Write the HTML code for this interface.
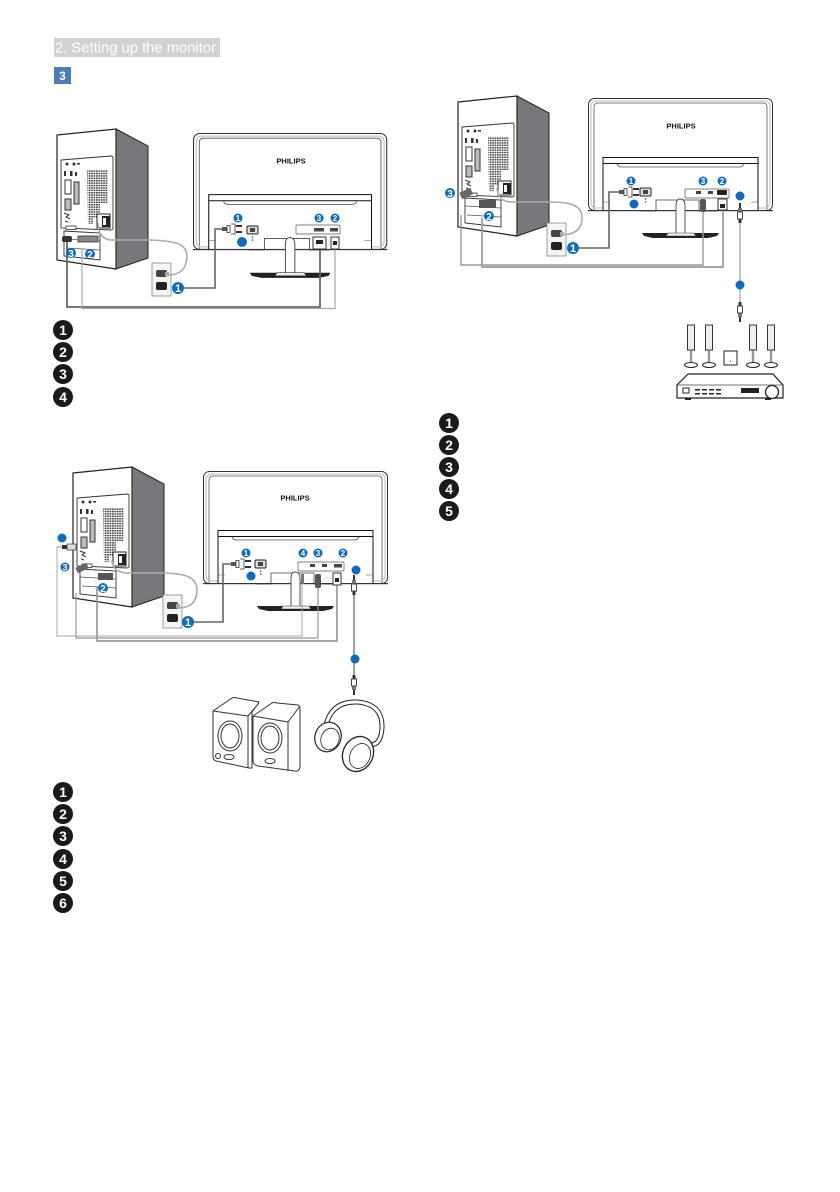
<!DOCTYPE html>
<html><head><meta charset="utf-8"><style>
html,body{margin:0;padding:0;background:#fff;width:840px;height:1192px;overflow:hidden}
svg{display:block;font-family:"Liberation Sans",sans-serif;filter:blur(.35px)}
.b{font-weight:bold;fill:#fff;text-anchor:middle}
</style></head><body>
<svg width="840" height="1192" viewBox="0 0 840 1192" xmlns="http://www.w3.org/2000/svg">
<defs>
<pattern id="mesh" width="2.4" height="2.4" patternUnits="userSpaceOnUse"><rect width="2.4" height="2.4" fill="#fff"/><rect width="1.7" height="1.5" fill="#444"/></pattern>
<g id="pc">
 <polygon points="57,135 116,129 116,269 57,260" fill="#fff" stroke="#222" stroke-width="1.2"/>
 <polygon points="116,129 148,146 148,258 116,269" fill="#77787b" stroke="#222" stroke-width="1"/>
 <path d="M61,160 L111,156 Q113,156 113,158 V229 L111,230 L61,228Z" fill="#fff" stroke="#333" stroke-width=".9"/>
 <path d="M87,170 H108 V203 H100 V218 H93 V224 H88Z" fill="url(#mesh)"/>
 <g fill="#333">
 <circle cx="67" cy="164" r="1.5"/><circle cx="74" cy="164" r="1.5"/><rect x="77" y="163" width="3" height="1.5"/>
 <rect x="64" y="171" width="2" height="5"/><rect x="70" y="171" width="2.5" height="5"/><rect x="75" y="172" width="2" height="4"/>
 </g>
 <rect x="65" y="180" width="6" height="14" fill="#fff" stroke="#333"/>
 <rect x="74" y="182" width="5" height="22" fill="#bbb" stroke="#333"/>
 <rect x="65" y="199" width="6" height="11" fill="#bbb" stroke="#333"/>
 <path d="M64,213 l5,2 l-3,2 l4,2 M65,221 l3,1" stroke="#333" fill="none"/>
 <rect x="66" y="226" width="10" height="3.5" fill="#fff" stroke="#333" stroke-width=".8"/>
 <path d="M97,214 H110 V228 H97Z" fill="#fff" stroke="#222"/><rect x="102" y="216" width="8" height="11" fill="#222"/><rect x="103" y="218" width="3" height="7" fill="#fff"/>
 <path d="M64,231 L100,233 V260 L64,256Z" fill="#fff" stroke="#333" stroke-width=".9"/>
 <path d="M64,239 L100,241 M66,248 L100,250" stroke="#555" fill="none" stroke-width=".7"/>
</g>
<g id="mon">
 <rect x=".5" y=".5" width="184" height="112" rx="6" fill="#fff" stroke="#333"/>
 <path d="M6,112 V9 Q6,5 10,5 H175 Q179,5 179,9 V112" fill="none" stroke="#555" stroke-width=".8"/>
 <rect x="3" y="3" width="179" height="107" rx="5" fill="none" stroke="#bbb" stroke-width="1"/>
 <rect x="15" y="59" width="155" height="54" fill="#fff"/>
 <path d="M15,113 V59.5 H170 V113" fill="none" stroke="#111" stroke-width="1"/>
 <path d="M15,65.5 H170" stroke="#111" stroke-width="1"/>
 <path d="M29,66 Q30,69 34,69 H151 Q155,69 156,66" fill="none" stroke="#555" stroke-width=".8"/>
 <path d="M15,104 H22 M163,104 H170" stroke="#555" stroke-width=".5"/>
 <path d="M53,113 H68 V102 H111 V113 H130" fill="#fff" stroke="#444" stroke-width=".8"/>
 <rect x="0" y="112" width="185" height="1.2" fill="#333"/>
 <path d="M88,138 V108 Q88,101 92,101 Q97,101 97,108 V138" fill="#fff" stroke="#444" stroke-width=".9"/>
 <path d="M54,135 H131 L129,138 L120,140 H65 L56,138Z" fill="#222"/>
 <path d="M80,135 H106 L108,138 H78Z" fill="#eee" stroke="#333" stroke-width=".6"/>
</g>
<g id="wall"><rect x="0" y="0" width="19" height="33" fill="#f4f4f4" stroke="#888" stroke-width=".8"/><rect x="4" y="7" width="11" height="7" rx="2" fill="#444"/><rect x="4" y="19" width="11" height="8" rx="2" fill="#222"/><rect x="13" y="9" width="4" height="4" fill="#aaa"/></g>
<g id="plug"><rect x="0" y="-2" width="5" height="4" fill="#555"/><rect x="5" y="-3.5" width="3" height="7" fill="#fff" stroke="#333" stroke-width=".8"/><path d="M9,-5 H13 V5 H9" fill="#fff" stroke="#333" stroke-width=".8"/><rect x="14" y="-4" width="6" height="2" fill="#333"/><rect x="14" y="2" width="6" height="2" fill="#333"/></g>
<g id="iec"><rect x="0" y="-4" width="11" height="8" rx="1" fill="#ddd" stroke="#222"/><rect x="3" y="-2" width="5" height="4" fill="#444"/><circle cx="5.500" cy="7" r=".8" fill="#333"/><circle cx="5.500" cy="10" r=".8" fill="#333"/></g>
<g id="jack"><rect x="-1" y="0" width="2" height="5" fill="#333"/><rect x="-2" y="5" width="4" height="4" fill="#777"/><rect x="-2.500" y="9" width="5" height="7" fill="#fff" stroke="#333" stroke-width=".9"/><rect x="-1.500" y="16" width="3" height="4" fill="#333"/></g>
<g id="tower"><rect x="-3.500" y="0" width="7" height="25" fill="#eee" stroke="#333"/><rect x="-.8" y="25" width="1.600" height="14" fill="#fff" stroke="#333" stroke-width=".6"/><ellipse cx="0" cy="40" rx="6.500" ry="2.500" fill="#fff" stroke="#222"/></g>
</defs>

<rect width="840" height="1192" fill="#fff"/>
<rect x="54" y="38" width="166" height="19" fill="#d1d2d4"/>
<text x="55" y="52.500" font-size="15" fill="#fff" textLength="161" lengthAdjust="spacingAndGlyphs">2. Setting up the monitor</text>
<rect x="54" y="67" width="17" height="17" fill="#4a7db5"/>
<text x="62.500" y="80" font-size="12" class="b">3</text>

<!-- DIAGRAM 1 -->
<use href="#pc"/>
<g transform="translate(193,133) scale(1.05,1.035)"><use href="#mon"/></g>
<text x="291" y="163.500" font-size="7.500" font-weight="bold" text-anchor="middle" fill="#111">PHILIPS</text>
<use href="#wall" x="152" y="263"/>
<path d="M168,275 Q186,275 187,257 C187,243 175,241 150,240 L110,240 Q98,238 98,223" fill="none" stroke="#aaa" stroke-width="1.600"/>
<path d="M67,238 V307 H320 V250" fill="none" stroke="#666" stroke-width="1.800"/>
<path d="M82,248 V308.500 H335 V248" fill="none" stroke="#aaa" stroke-width="1.200"/>
<path d="M178,288 H215 V229 H223" fill="none" stroke="#666" stroke-width="1.600"/>
<use href="#plug" x="222" y="229"/><g transform="translate(247,230)"><use href="#iec"/></g>
<rect x="296" y="225" width="44" height="9" rx="1" fill="#fff" stroke="#555" stroke-width=".7"/>
<rect x="314" y="228" width="10" height="3.500" fill="#444"/><rect x="330" y="228" width="8" height="3.500" fill="#444"/>
<rect x="313" y="237" width="13" height="12" fill="#fff" stroke="#333"/><rect x="316" y="240" width="7" height="4" fill="#222"/>
<rect x="331" y="237" width="8" height="12" fill="#fff" stroke="#333"/><rect x="333" y="241" width="4" height="4" fill="#222"/>
<rect x="62" y="236" width="10" height="6" rx="2" fill="#333"/><rect x="78" y="236" width="20" height="6" fill="#888" stroke="#333" stroke-width=".8"/>
<g fill="#0f6cbd"><circle cx="178" cy="288" r="6"/><circle cx="238" cy="218" r="4.500"/><circle cx="319" cy="218" r="4.500"/><circle cx="335" cy="218" r="4.500"/><circle cx="242" cy="242" r="5"/><circle cx="71" cy="253" r="5"/><circle cx="90" cy="254" r="5"/></g>
<g class="b"><text x="178" y="292" font-size="11" class="b">1</text><text x="238" y="221" font-size="8" class="b">1</text><text x="319" y="221" font-size="8" class="b">3</text><text x="335" y="221" font-size="8" class="b">2</text><text x="71" y="257" font-size="10" class="b">3</text><text x="90" y="258" font-size="10" class="b">2</text></g>

<!-- legend 1 -->
<g fill="#1a1a18"><circle cx="63" cy="330" r="10"/><circle cx="63" cy="352" r="10"/><circle cx="63" cy="374" r="10"/><circle cx="63" cy="397" r="10"/></g>
<text x="63" y="335" font-size="14" class="b">1</text><text x="63" y="357" font-size="14" class="b">2</text><text x="63" y="379" font-size="14" class="b">3</text><text x="63" y="402" font-size="14" class="b">4</text>

<!-- DIAGRAM 2 -->
<use href="#pc" x="16" y="338"/>
<use href="#mon" x="203" y="471"/>
<text x="295" y="500.500" font-size="7.500" font-weight="bold" text-anchor="middle" fill="#111">PHILIPS</text>
<use href="#wall" x="163" y="595"/>
<path d="M178,608 Q197,608 197,590 C197,575 180,573 160,573 L125,573 Q112,571 112,560" fill="none" stroke="#aaa" stroke-width="1.600"/>
<path d="M57,547 V636 H302 V580" fill="none" stroke="#aaa" stroke-width="1"/>
<path d="M76,593 V638 H318 V583" fill="none" stroke="#999" stroke-width="1.200"/>
<path d="M97,587 V641 H337 V583" fill="none" stroke="#999" stroke-width="1.700"/>
<path d="M188,622 H223 V564 H232" fill="none" stroke="#666" stroke-width="1.600"/>
<path d="M354,590 V690" stroke="#777" stroke-width="1.400"/>
<path d="M57,547 H62" stroke="#999"/><rect x="62" y="545" width="5" height="4" fill="#333"/><rect x="67" y="544" width="9" height="6" fill="#ddd" stroke="#333" stroke-width=".7"/>
<rect x="76" y="565" width="12" height="6" transform="rotate(-25 82 568)" fill="#666"/>
<rect x="98" y="573" width="15" height="7" fill="#555"/>
<use href="#plug" x="231" y="564"/><g transform="translate(255,564)"><use href="#iec"/></g>
<rect x="298" y="562" width="46" height="9" rx="1" fill="#fff" stroke="#555" stroke-width=".7"/>
<rect x="310" y="564" width="5" height="3" fill="#444"/><rect x="322" y="564" width="5" height="3" fill="#444"/><rect x="334" y="564" width="8" height="3.500" fill="#444"/>
<rect x="315" y="574" width="6" height="14" rx="2" fill="#555"/><rect x="333" y="573" width="8" height="12" fill="#fff" stroke="#333"/><rect x="335" y="578" width="4" height="4" fill="#222"/>
<rect x="301" y="574" width="3" height="10" fill="#777"/>
<use href="#jack" x="354" y="575"/><g transform="translate(354,695) scale(1,-1)"><use href="#jack"/></g>
<g fill="#0f6cbd"><circle cx="188" cy="622" r="6"/><circle cx="246" cy="553" r="4.500"/><circle cx="303" cy="553" r="4.500"/><circle cx="318" cy="553" r="4.500"/><circle cx="343" cy="553" r="4.500"/><circle cx="251" cy="576" r="4.500"/><circle cx="356" cy="570" r="4.500"/><circle cx="355" cy="659" r="4.500"/><circle cx="62" cy="538" r="4.500"/><circle cx="65" cy="567" r="4.500"/><circle cx="103" cy="588" r="5"/></g>
<text x="188" y="626" font-size="11" class="b">1</text><text x="246" y="556" font-size="8" class="b">1</text><text x="303" y="556" font-size="8" class="b">4</text><text x="318" y="556" font-size="8" class="b">3</text><text x="343" y="556" font-size="8" class="b">2</text><text x="65" y="570.500" font-size="9" class="b">3</text><text x="103" y="592" font-size="10" class="b">2</text>

<!-- speakers -->
<g fill="#fff" stroke="#333" stroke-width="1" stroke-linejoin="round">
<path d="M213,711 L232,698 Q234,697 237,698 L259,702 L252,712 V768 L249,768 L216,761 Q213,760 213,756Z"/>
<path d="M213,711 L248,716 L259,703 M248,716 V768"/>
<ellipse cx="230" cy="736" rx="12" ry="15"/><ellipse cx="230" cy="736" rx="9" ry="12"/>
<ellipse cx="229" cy="757" rx="5" ry="2.500"/><circle cx="218" cy="756" r="2.500"/>
<path d="M253,716 L272,703 Q274,702 277,703 L298,705 Q300,706 300,709 V767 Q299,772 295,771 L258,766 Q253,765 253,761Z"/>
<path d="M253,716 L288,722 L300,706 M288,722 V771"/>
<ellipse cx="270" cy="738" rx="12" ry="15"/><ellipse cx="270" cy="738" rx="9" ry="12"/>
<ellipse cx="270" cy="761" rx="5" ry="2.500"/>
</g>
<g fill="#fff" stroke="#222">
<path d="M326,725 Q332,701 357,702 Q383,704 382,728 Q381,745 370,745" fill="none" stroke-width="5"/>
<path d="M326,725 Q332,701 357,702 Q383,704 382,728 Q381,745 370,745" fill="none" stroke="#fff" stroke-width="3"/>
<ellipse cx="328" cy="737" rx="13" ry="15" transform="rotate(20 328 737)" stroke-width="1.200"/>
<ellipse cx="330" cy="739" rx="9" ry="11" transform="rotate(20 330 739)" stroke-width=".8"/>
<ellipse cx="358" cy="754" rx="15" ry="18" transform="rotate(25 358 754)" stroke-width="1.300"/>
<ellipse cx="360" cy="756" rx="10" ry="13" transform="rotate(25 360 756)" stroke-width=".8"/>
</g>

<!-- legend 2 -->
<g fill="#1a1a18"><circle cx="63" cy="792" r="10"/><circle cx="63" cy="814" r="10"/><circle cx="63" cy="836" r="10"/><circle cx="63" cy="859" r="10"/><circle cx="63" cy="881" r="10"/><circle cx="63" cy="903" r="10"/></g>
<text x="63" y="797" font-size="14" class="b">1</text><text x="63" y="819" font-size="14" class="b">2</text><text x="63" y="841" font-size="14" class="b">3</text><text x="63" y="864" font-size="14" class="b">4</text><text x="63" y="886" font-size="14" class="b">5</text><text x="63" y="908" font-size="14" class="b">6</text>

<!-- DIAGRAM 3 -->
<use href="#pc" x="401" y="-33"/>
<use href="#mon" x="588" y="98"/>
<text x="681" y="128.500" font-size="7.500" font-weight="bold" text-anchor="middle" fill="#111">PHILIPS</text>
<use href="#wall" x="547" y="223"/>
<path d="M560,235 Q582,235 582,218 C582,205 570,202 550,202 L512,202 Q498,202 497,188" fill="none" stroke="#aaa" stroke-width="1.600"/>
<path d="M461,215 V265 H703 V212" fill="none" stroke="#999" stroke-width="1.400"/>
<path d="M482,218 V267 H723 V208" fill="none" stroke="#999" stroke-width="1.700"/>
<path d="M573,248 H609 V192 H620" fill="none" stroke="#666" stroke-width="1.600"/>
<path d="M740,205 V318" stroke="#888" stroke-width="1"/>
<rect x="460" y="190" width="12" height="7" transform="rotate(-25 466 193)" fill="#666"/>
<rect x="479" y="200" width="17" height="8" fill="#555"/>
<use href="#plug" x="619" y="192"/><g transform="translate(640,192)"><use href="#iec"/></g>
<rect x="685" y="189" width="44" height="9" rx="1" fill="#fff" stroke="#555" stroke-width=".7"/>
<rect x="696" y="191" width="5" height="3" fill="#444"/><rect x="708" y="191" width="5" height="3" fill="#444"/><rect x="717" y="190" width="10" height="5" rx="1" fill="#222"/>
<rect x="700" y="199" width="6" height="13" rx="2" fill="#555"/><rect x="718" y="199" width="9" height="11" fill="#fff" stroke="#333"/><rect x="720" y="204" width="5" height="4" fill="#222"/>
<use href="#jack" x="740" y="203"/><g transform="translate(740,322) scale(1,-1)"><use href="#jack"/></g>
<g fill="#0f6cbd"><circle cx="573" cy="248" r="6"/><circle cx="631" cy="181" r="4.500"/><circle cx="703" cy="181" r="4.500"/><circle cx="722" cy="181" r="4.500"/><circle cx="634" cy="204" r="4.500"/><circle cx="740" cy="196" r="4.500"/><circle cx="740" cy="285" r="4.500"/><circle cx="450" cy="193" r="5"/><circle cx="489" cy="216" r="5"/></g>
<text x="573" y="252" font-size="11" class="b">1</text><text x="631" y="184" font-size="8" class="b">1</text><text x="703" y="184" font-size="8" class="b">3</text><text x="722" y="184" font-size="8" class="b">2</text><text x="450" y="197" font-size="10" class="b">3</text><text x="489" y="220" font-size="10" class="b">2</text>

<!-- home theatre -->
<use href="#tower" x="691" y="325"/><use href="#tower" x="709" y="325"/><use href="#tower" x="753" y="325"/><use href="#tower" x="771" y="325"/>
<rect x="724" y="351" width="13" height="14" fill="#fff" stroke="#222"/><circle cx="730.500" cy="361" r=".6" fill="#222"/>
<path d="M677,385 L688,374 H773 L783,385 V398 H677Z" fill="#fff" stroke="#222" stroke-width="1.200"/>
<path d="M677,385 H783" stroke="#444" stroke-width=".8"/>
<rect x="683" y="388" width="6" height="5" fill="#fff" stroke="#222"/>
<g fill="#222"><rect x="695" y="389" width="5" height="1.500"/><rect x="702" y="389" width="5" height="1.500"/><rect x="709" y="389" width="5" height="1.500"/><rect x="716" y="389" width="5" height="1.500"/><rect x="695" y="393" width="5" height="1.500"/><rect x="702" y="393" width="5" height="1.500"/><rect x="709" y="393" width="5" height="1.500"/><rect x="716" y="393" width="5" height="1.500"/><rect x="741" y="388" width="18" height="5"/><rect x="685" y="398" width="6" height="2"/><rect x="765" y="398" width="6" height="2"/></g>
<circle cx="772" cy="392" r="6.500" fill="#fff" stroke="#222" stroke-width="1.300"/>

<!-- legend 3 -->
<g fill="#1a1a18"><circle cx="449" cy="423" r="10"/><circle cx="449" cy="445" r="10"/><circle cx="449" cy="467" r="10"/><circle cx="449" cy="489" r="10"/><circle cx="449" cy="511" r="10"/></g>
<text x="449" y="428" font-size="14" class="b">1</text><text x="449" y="450" font-size="14" class="b">2</text><text x="449" y="472" font-size="14" class="b">3</text><text x="449" y="494" font-size="14" class="b">4</text><text x="449" y="516" font-size="14" class="b">5</text>
</svg>
</body></html>
